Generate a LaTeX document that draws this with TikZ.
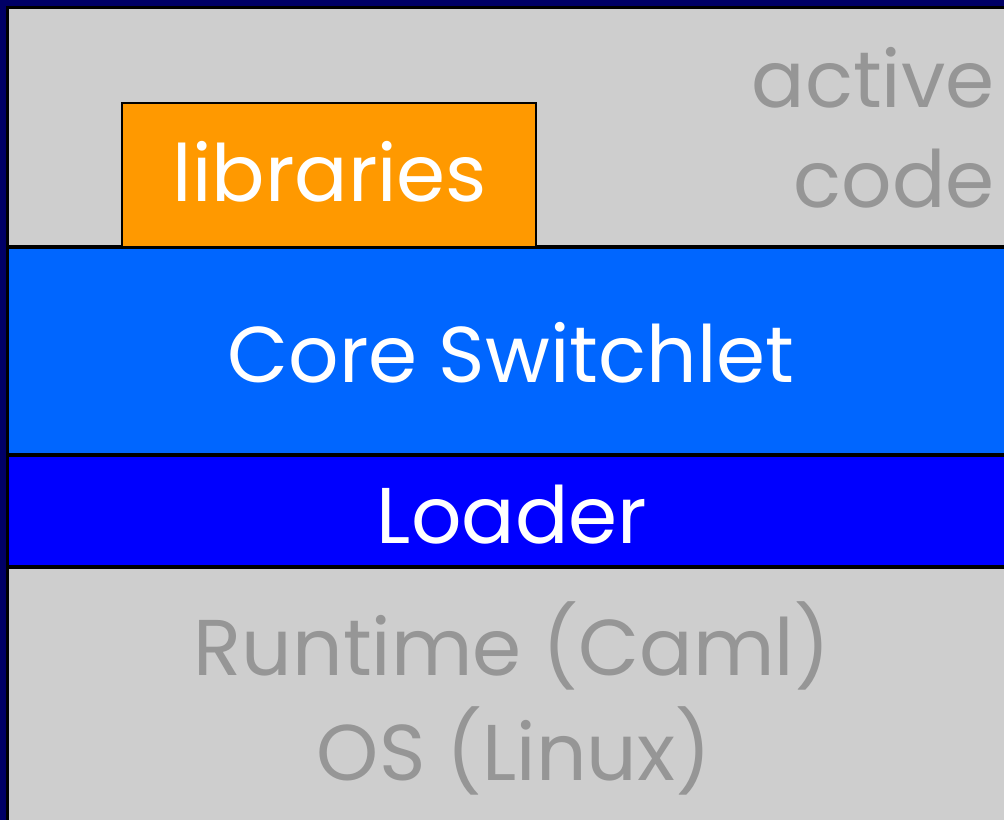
\documentclass[tikz,border=0pt]{standalone}
\usepackage{fontspec}
\setmainfont{Poppins}
\definecolor{framenavy}{HTML}{000066}
\definecolor{slidegray}{HTML}{CECECE}
\definecolor{dimtext}{HTML}{969696}
\definecolor{coreblue}{HTML}{0066FF}
\definecolor{loaderblue}{HTML}{0000FF}
\definecolor{liborange}{HTML}{FF9900}
\begin{document}
\begin{tikzpicture}[x=0.02cm, y=-0.02cm]
    \tikzstyle{label}=[inner sep=0pt, font=\fontsize{45}{54}\selectfont]
    \tikzstyle{light label}=[label, text=white]
    \tikzstyle{dim label}=[label, text=dimtext]
    \tikzstyle{rule}=[draw=black, line width=2.3pt]
    \tikzstyle{libbox}=[fill=liborange, draw=black, line width=1.4pt]

    \useasboundingbox (0,0) rectangle (1004,820);

    % slide frame and background
    \fill[framenavy] (0,0) rectangle (1004,820);
    \fill[black] (6,6) rectangle (1004,820);
    \fill[slidegray] (9,9) rectangle (1004,820);

    % the two layers of the switch
    \fill[coreblue] (9,247) rectangle (1004,455);
    \fill[loaderblue] (9,455) rectangle (1004,567);
    \foreach \y in {247,455,567}
      \draw[rule] (9,\y) -- (1004,\y);

    % libraries sit on top of the core
    \draw[libbox] (122,103) rectangle (536,247);
    \node[light label, anchor=base] (lib) at (330,202) {libraries};

    \node[light label, anchor=base] (core) at (511,383) {Core Switchlet};
    \node[light label, anchor=base] (loader) at (512,543) {Loader};

    % greyed out parts
    \node[dim label, anchor=base east] (active) at (995,108) {active};
    \node[dim label, anchor=base east] (code) at (995,208) {code};
    \node[dim label, anchor=base] (runtime) at (512,675) {Runtime (Caml)};
    \node[dim label, anchor=base] (os) at (514,780) {OS (Linux)};
\end{tikzpicture}
\end{document}
